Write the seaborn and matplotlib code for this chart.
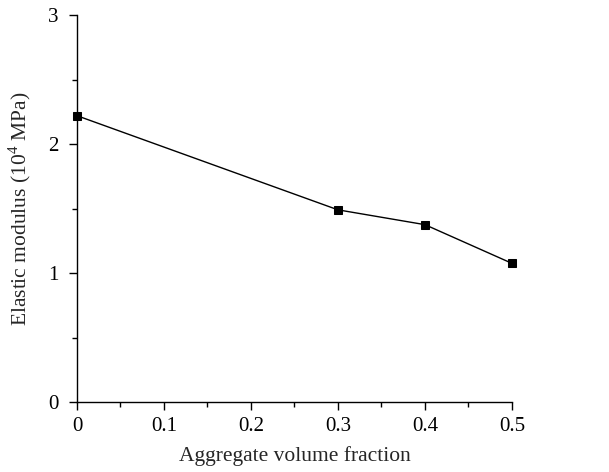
import matplotlib
matplotlib.use("Agg")
import matplotlib.pyplot as plt
import seaborn as sns
import pandas as pd
from matplotlib.ticker import MultipleLocator

volume_fraction = [0.0, 0.3, 0.4, 0.5]
elastic_modulus = [2.22, 1.49, 1.375, 1.075]
x_ticks = [0, 0.1, 0.2, 0.3, 0.4, 0.5]
x_tick_labels = ["0", "0.1", "0.2", "0.3", "0.4", "0.5"]
y_ticks = [0, 1, 2, 3]
y_tick_labels = ["0", "1", "2", "3"]

sns.set_style("ticks")
plt.rcParams['font.family'] = ['Liberation Serif', 'DejaVu Serif']
plt.rcParams['mathtext.fontset'] = 'custom'
plt.rcParams['mathtext.rm'] = 'Liberation Serif'

df = pd.DataFrame({"x": volume_fraction, "y": elastic_modulus})

fig = plt.figure(figsize=(6.09, 4.72), dpi=100)
ax = fig.add_axes([0.1264, 0.1483, 0.7143, 0.8197])
sns.lineplot(data=df, x="x", y="y", ax=ax, color="black", linewidth=1.0,
             marker="s", markersize=6, markeredgecolor="black", markerfacecolor="black",
             clip_on=False)

ax.set_xlim(0, 0.5)
ax.set_ylim(0, 3)
ax.set_xticks(x_ticks)
ax.set_xticklabels(x_tick_labels)
ax.set_yticks(y_ticks)
ax.set_yticklabels(y_tick_labels)
ax.xaxis.set_minor_locator(MultipleLocator(0.05))
ax.yaxis.set_minor_locator(MultipleLocator(0.5))
ax.tick_params(which="major", direction="out", length=6, width=1, labelsize=15, colors="black")
ax.tick_params(which="minor", direction="out", length=3.5, width=1, colors="black")
ax.tick_params(axis="x", pad=5)
ax.tick_params(axis="y", pad=7)
for s in ["top", "right"]:
    ax.spines[s].set_visible(False)
for s in ["left", "bottom"]:
    ax.spines[s].set_linewidth(1)
    ax.spines[s].set_color("black")
ax.set_xlabel("Aggregate volume fraction", fontsize=15.5, labelpad=7)
ax.set_ylabel(r"Elastic modulus (10$^{\mathregular{4}}$ MPa)", fontsize=15.5, labelpad=11)

fig.savefig("out.png", dpi=100)
